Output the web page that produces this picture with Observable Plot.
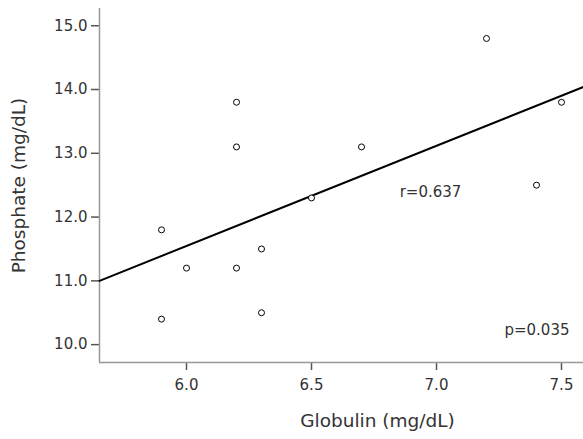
<!DOCTYPE html>
<html>
<head>
<meta charset="utf-8">
<script src="https://cdn.jsdelivr.net/npm/d3@7"></script>
<script src="https://cdn.jsdelivr.net/npm/@observablehq/plot@0.6"></script>
<style>
  html, body { margin: 0; padding: 0; background: #fff; }
  svg { display: block; }
</style>
</head>
<body>
<div id="chart"></div>
<script>
const globulin  = [5.9, 5.9, 6.0, 6.2, 6.2, 6.2, 6.3, 6.3, 6.5, 6.7, 7.2, 7.4, 7.5];
const phosphate = [11.8, 10.4, 11.2, 13.8, 13.1, 11.2, 11.5, 10.5, 12.3, 13.1, 14.8, 12.5, 13.8];
const xTicks = [6.0, 6.5, 7.0, 7.5];
const yTicks = [10.0, 11.0, 12.0, 13.0, 14.0, 15.0];
const xDomain = [5.652, 7.588];
const yDomain = [9.72, 15.27];
const xTitle = "Globulin (mg/dL)";
const yTitle = "Phosphate (mg/dL)";
const rLabel = "r=0.637";
const pLabel = "p=0.035";

const data = globulin.map((g, i) => ({g, p: phosphate[i]}));

// least-squares fit, drawn across the whole x domain
const mx = d3.mean(globulin), my = d3.mean(phosphate);
const sxy = d3.sum(data, d => (d.g - mx) * (d.p - my));
const sxx = d3.sum(data, d => (d.g - mx) ** 2);
const slope = sxy / sxx, intercept = my - slope * mx;
const fit = xDomain.map(g => ({g, p: intercept + slope * g}));

const font = "DejaVu Sans, sans-serif";
const chart = Plot.plot({
  width: 583,
  height: 439,
  marginLeft: 99,
  marginRight: 0,
  marginTop: 8,
  marginBottom: 77,
  style: {fontFamily: font, fontSize: "15px", color: "#333", background: "#fff"},
  x: {domain: xDomain},
  y: {domain: yDomain},
  marks: [
    Plot.axisX({ticks: xTicks, tickFormat: d3.format(".1f"), tickSize: 8, tickPadding: 9,
      stroke: "#555", strokeWidth: 1.5, fill: "#333", fontSize: 15, label: null}),
    Plot.axisY({ticks: yTicks, tickFormat: d3.format(".1f"), tickSize: 8, tickPadding: 4,
      stroke: "#555", strokeWidth: 1.5, fill: "#333", fontSize: 15, label: null}),
    Plot.text([xTitle], {text: d => d, frameAnchor: "bottom", textAnchor: "middle", dx: 36, dy: 64,
      fontSize: 18.5, fill: "#333", style: "letter-spacing:1px"}),
    Plot.text([yTitle], {text: d => d, frameAnchor: "left", textAnchor: "middle", rotate: -90, dx: -80,
      fontSize: 18.5, fill: "#333"}),
    Plot.ruleX([xDomain[0]], {stroke: "#999", strokeWidth: 1.5}),
    Plot.ruleY([yDomain[0]], {stroke: "#999", strokeWidth: 1.5}),
    Plot.line(fit, {x: "g", y: "p", stroke: "#000", strokeWidth: 2}),
    Plot.dot(data, {x: "g", y: "p", r: 3, stroke: "#000", strokeWidth: 1, fill: "#fff"}),
    Plot.text([rLabel], {text: d => d, x: 6.976, y: 12.39, textAnchor: "middle", fontSize: 15, fill: "#333"}),
    Plot.text([pLabel], {text: d => d, x: 7.532, y: 10.22, textAnchor: "end", fontSize: 15, fill: "#333"})
  ]
});
document.getElementById("chart").appendChild(chart);
</script>
</body>
</html>
